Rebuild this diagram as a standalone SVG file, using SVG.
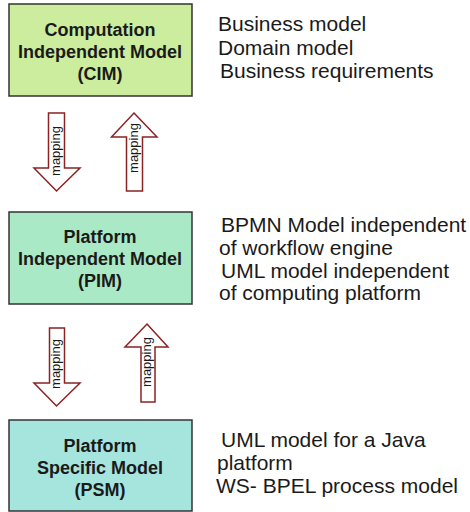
<svg xmlns="http://www.w3.org/2000/svg" width="470" height="512" viewBox="0 0 470 512">
<style>
.box{stroke:#333;stroke-width:1.5}
.bt{font-family:"Liberation Sans",Arial,sans-serif;font-weight:bold;font-size:18px;fill:#1a1a1a;text-anchor:middle}
.rt{font-family:"Liberation Sans",Arial,sans-serif;font-size:21px;fill:#1a1a1a}
.arr{fill:#fff;stroke:#8b2323;stroke-width:1.5}
.at{font-family:"Liberation Sans",Arial,sans-serif;font-size:13px;fill:#1a1a1a;text-anchor:middle}
</style>
<rect width="470" height="512" fill="#fff"/>
<g id="cim">
<rect class="box" x="9" y="4" width="183" height="92" fill="#ccec9e"/>
<text class="bt" x="100" y="36">Computation</text>
<text class="bt" x="100" y="58">Independent Model</text>
<text class="bt" x="100" y="80">(CIM)</text>
</g>
<g id="cim-notes">
<text class="rt" x="218" y="31">Business model</text>
<text class="rt" x="218" y="55">Domain model</text>
<text class="rt" x="220" y="78">Business requirements</text>
</g>
<g id="pim">
<rect class="box" x="9" y="212" width="183" height="92" fill="#aae9c6"/>
<text class="bt" x="100" y="243">Platform</text>
<text class="bt" x="100" y="265">Independent Model</text>
<text class="bt" x="100" y="287">(PIM)</text>
</g>
<g id="pim-notes">
<text class="rt" x="221" y="232">BPMN Model independent</text>
<text class="rt" x="219" y="255">of workflow engine</text>
<text class="rt" x="221" y="278">UML model independent</text>
<text class="rt" x="219" y="300">of computing platform</text>
</g>
<g id="psm">
<rect class="box" x="9" y="420" width="183" height="91" fill="#a6e4de"/>
<text class="bt" x="100" y="452">Platform</text>
<text class="bt" x="100" y="474">Specific Model</text>
<text class="bt" x="100" y="496">(PSM)</text>
</g>
<g id="psm-notes">
<text class="rt" x="221" y="447">UML model for a Java</text>
<text class="rt" x="217" y="470">platform</text>
<text class="rt" x="216" y="493">WS- BPEL process model</text>
</g>
<g id="connectors">
<polygon class="arr" points="48.5,113 64.5,113 64.5,168 80,168 56.5,191 34,168 48.5,168"/>
<text class="at" transform="translate(60,151) rotate(-90)">mapping</text>
<polygon class="arr" points="134,113 157,137 142.5,137 142.5,191 126.5,191 126.5,137 111.5,137"/>
<text class="at" transform="translate(138,148) rotate(-90)">mapping</text>
<polygon class="arr" points="49.5,328 64.5,328 64.5,383 80,383 56.5,406 34,383 49.5,383"/>
<text class="at" transform="translate(60,364) rotate(-90)">mapping</text>
<polygon class="arr" points="147,324 168,347 155,347 155,402 141,402 141,347 125,347"/>
<text class="at" transform="translate(151,362) rotate(-90)">mapping</text>
</g>
</svg>
